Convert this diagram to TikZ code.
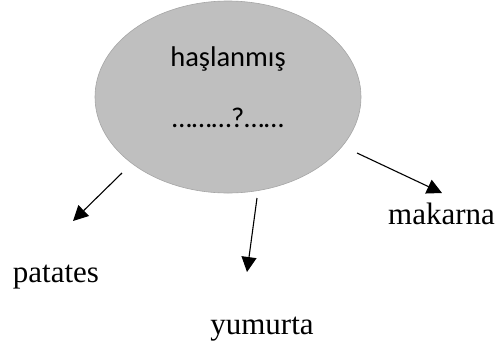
\documentclass[tikz,border=0pt]{standalone}
\usepackage{fontspec}
\setmainfont{Liberation Serif}
\newfontfamily\calib{Carlito}
\usetikzlibrary{shapes.geometric,arrows.meta}
\begin{document}
\begin{tikzpicture}[x=1bp,y=-1bp,
  bubble/.style={ellipse, draw=black!35, fill=black!25, line width=0.6bp,
                 minimum width=266bp, minimum height=192bp, inner sep=0pt},
  intext/.style={anchor=base, inner sep=0pt, font=\calib\fontsize{28.5bp}{32bp}\selectfont},
  label/.style={anchor=base, inner sep=0pt, font=\fontsize{31bp}{36bp}\selectfont},
  arr/.style={line width=1.1bp, -{Triangle[length=15bp,width=15bp]}}]
\useasboundingbox (0,0) rectangle (499,348);
\node[bubble] (circ) at (228,97) {};
\node[intext] (t1) at (228,66) {haşlanmış};
\node[intext] (t2) at (228,127) {………?……};
\node[label] (pat) at (56,282) {patates};
\node[label] (mak) at (441.5,224) {makarna};
\node[label] (yum) at (262,334) {yumurta};
\coordinate (ps) at (122,173);
\coordinate (pe) at (73,221);
\coordinate (ys) at (257,198);
\coordinate (ye) at (247,272);
\coordinate (ms) at (357,153);
\coordinate (me) at (442,193);
\draw[arr] (ps) -- (pe);
\draw[arr] (ys) -- (ye);
\draw[arr] (ms) -- (me);
\end{tikzpicture}
\end{document}
